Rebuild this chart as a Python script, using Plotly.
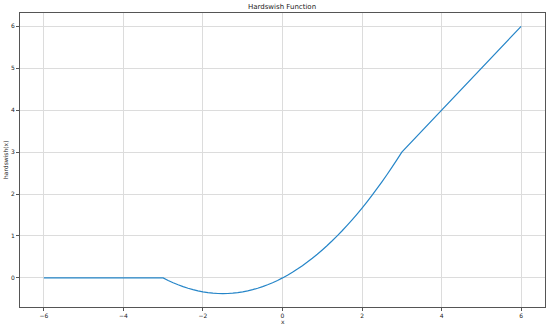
import plotly.graph_objects as go

# Points
x_vals = [-6.0, -3.0, -2.875, -2.75, -2.625, -2.5, -2.375, -2.25, -2.125, -2.0, -1.875, -1.75, -1.625,
          -1.5, -1.375, -1.25, -1.125, -1.0, -0.875, -0.75, -0.625, -0.5, -0.375, -0.25, -0.125,
          0.0, 0.125, 0.25, 0.375, 0.5, 0.625, 0.75, 0.875, 1.0, 1.125, 1.25, 1.375, 1.5, 1.625,
          1.75, 1.875, 2.0, 2.125, 2.25, 2.375, 2.5, 2.625, 2.75, 2.875, 3.0, 6.0]
y_vals = [0.0, 0.0, -0.060, -0.115, -0.164, -0.208, -0.247, -0.281, -0.310, -0.333, -0.352, -0.365, -0.372,
          -0.375, -0.372, -0.365, -0.352, -0.333, -0.310, -0.281, -0.247, -0.208, -0.164, -0.115, -0.060,
          0.0, 0.065, 0.135, 0.211, 0.292, 0.378, 0.469, 0.565, 0.667, 0.773, 0.885, 1.003, 1.125, 1.253,
          1.385, 1.523, 1.667, 1.815, 1.969, 2.128, 2.292, 2.461, 2.635, 2.815, 3.0, 6.0]

x_ticks = [-6, -4, -2, 0, 2, 4, 6]
y_ticks = [0, 1, 2, 3, 4, 5, 6]

FONT = dict(family="DejaVu Sans", size=6, color="#222222")

fig = go.Figure()
fig.add_trace(go.Scatter(x=x_vals, y=y_vals, mode="lines",
                         line=dict(color="#2585c8", width=1.2, simplify=False), showlegend=False))

axis_common = dict(showline=True, linecolor="#555555", linewidth=1, mirror=True,
                   showgrid=True, gridcolor="#dcdcdc", gridwidth=1,
                   ticks="outside", ticklen=3, tickwidth=0.8, tickcolor="#555555",
                   zeroline=False, tickfont=FONT, automargin=False)

fig.update_xaxes(range=[-6.6, 6.6], tickvals=x_ticks, **axis_common)
fig.update_yaxes(range=[-0.694, 6.319], tickvals=y_ticks, **axis_common)

fig.update_layout(
    width=550, height=330, autosize=False,
    margin=dict(l=20, r=5, t=13, b=23, autoexpand=False),
    paper_bgcolor="white", plot_bgcolor="white",
    title=dict(text="Hardswish Function", x=282/550, xanchor="center", y=1 - 7/330, yanchor="middle",
               font=dict(family="DejaVu Sans", size=7, color="#222222")),
    annotations=[
        dict(text="x", xref="paper", yref="paper", x=0.5, y=-14/294, xanchor="center", yanchor="middle",
             showarrow=False, font=FONT),
        dict(text="hardswish(x)", xref="paper", yref="paper", x=-15/525, y=0.5, xanchor="center",
             yanchor="middle", textangle=-90, showarrow=False, font=FONT),
    ],
)

fig.write_html("out.html", config={"displayModeBar": False},
               post_script="document.body.style.margin='0';document.body.style.overflow='hidden';")
